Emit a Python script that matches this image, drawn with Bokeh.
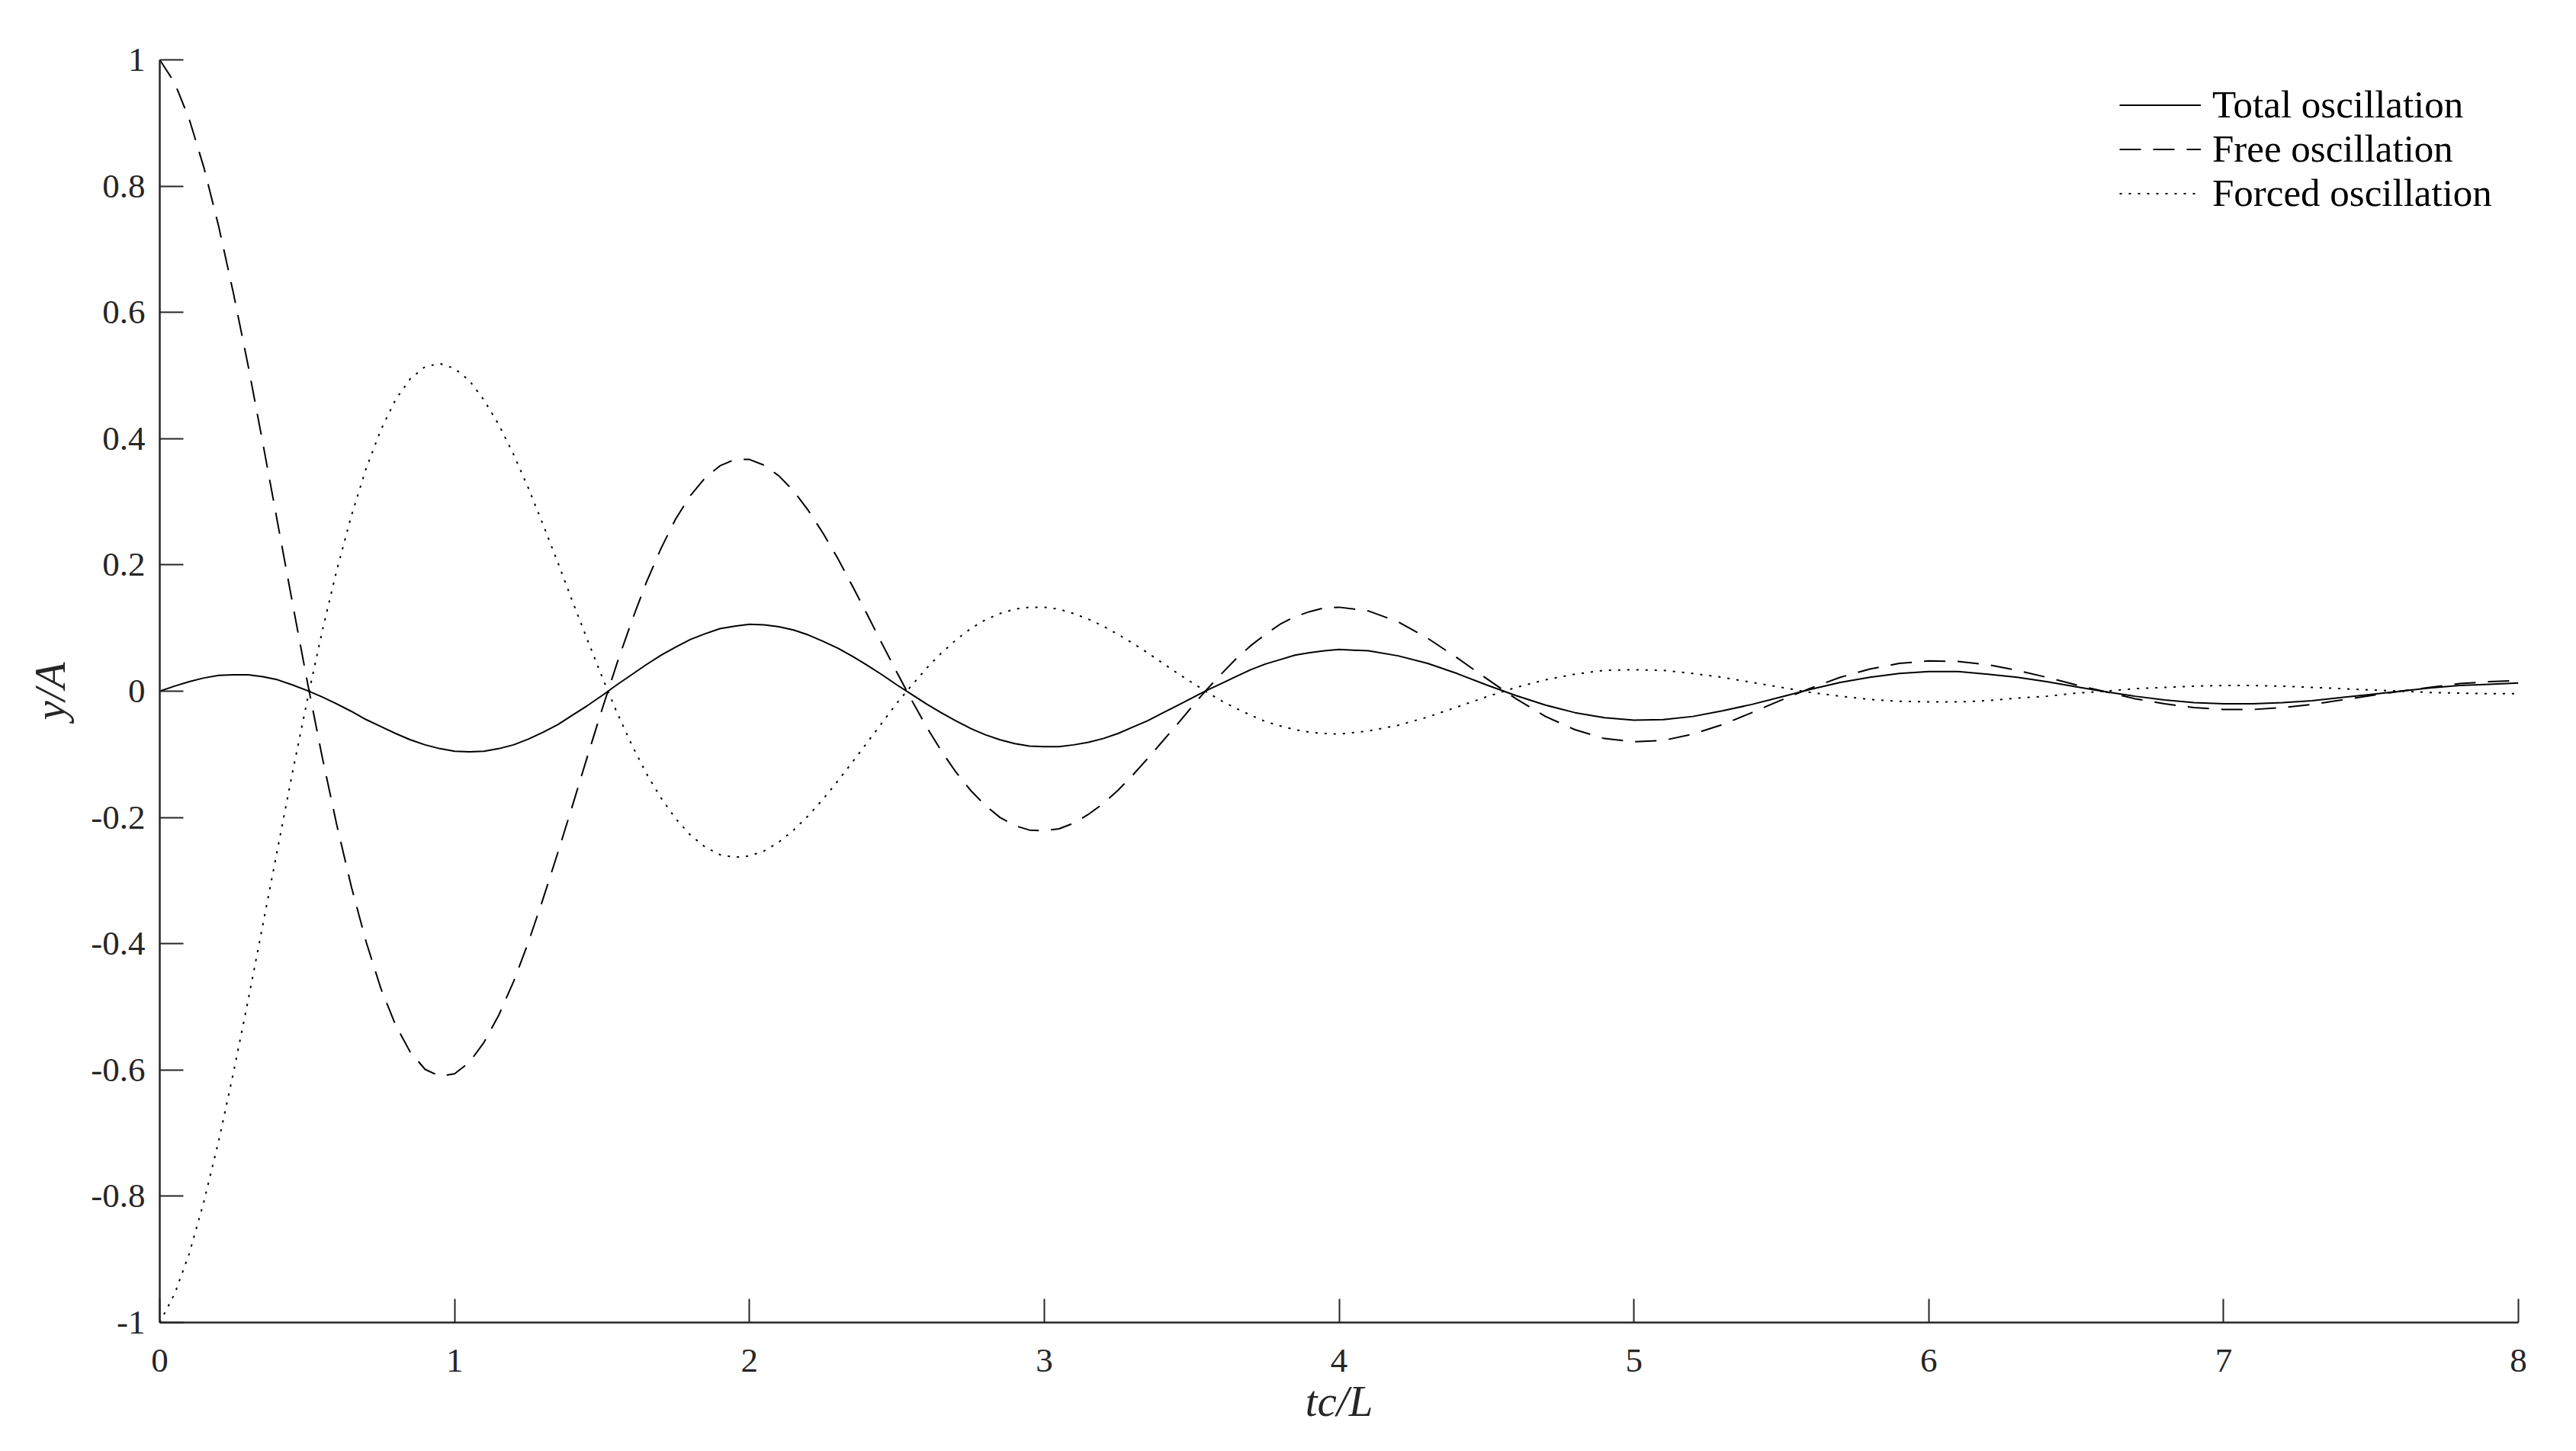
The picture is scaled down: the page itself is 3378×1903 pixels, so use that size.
from bokeh.plotting import figure
from bokeh.models import ColumnDataSource, Range1d, FixedTicker, Legend, LegendItem
from bokeh.embed import file_html
from bokeh.resources import INLINE

# ---- data ----
t_vals = [
    0.00, 0.05, 0.10, 0.15, 0.20, 0.25, 0.30, 0.35, 0.40, 0.45,
    0.50, 0.55, 0.60, 0.65, 0.70, 0.75, 0.80, 0.85, 0.90, 0.95,
    1.00, 1.05, 1.10, 1.15, 1.20, 1.25, 1.30, 1.35, 1.40, 1.45,
    1.50, 1.55, 1.60, 1.65, 1.70, 1.75, 1.80, 1.85, 1.90, 1.95,
    2.00, 2.05, 2.10, 2.15, 2.20, 2.25, 2.30, 2.35, 2.40, 2.45,
    2.50, 2.55, 2.60, 2.65, 2.70, 2.75, 2.80, 2.85, 2.90, 2.95,
    3.00, 3.05, 3.10, 3.15, 3.20, 3.25, 3.30, 3.35, 3.40, 3.45,
    3.50, 3.55, 3.60, 3.65, 3.70, 3.75, 3.80, 3.85, 3.90, 3.95,
    4.00,
    4.1, 4.2, 4.3, 4.4, 4.5, 4.6, 4.7, 4.8, 4.9, 5.0,
    5.1, 5.2, 5.3, 5.4, 5.5, 5.6, 5.7, 5.8, 5.9, 6.0,
    6.1, 6.2, 6.3, 6.4, 6.5, 6.6, 6.7, 6.8, 6.9, 7.0,
    7.1, 7.2, 7.3, 7.4, 7.5, 7.6, 7.7, 7.8, 7.9, 8.0,
]

total_osc = [
    0.000, 0.008, 0.015, 0.021, 0.025, 0.026, 0.026, 0.023, 0.018, 0.010,
    0.001, -0.009, -0.020, -0.032, -0.045, -0.056, -0.067, -0.077, -0.085, -0.091,
    -0.095, -0.096, -0.095, -0.091, -0.085, -0.076, -0.065, -0.053, -0.038, -0.023,
    -0.007, 0.010, 0.026, 0.042, 0.057, 0.070, 0.082, 0.091, 0.099, 0.103,
    0.106, 0.105, 0.102, 0.097, 0.089, 0.079, 0.068, 0.055, 0.041, 0.026,
    0.010, -0.005, -0.020, -0.034, -0.047, -0.059, -0.069, -0.077, -0.083, -0.087,
    -0.088, -0.088, -0.085, -0.081, -0.075, -0.067, -0.057, -0.047, -0.035, -0.023,
    -0.011, 0.001, 0.012, 0.023, 0.034, 0.043, 0.050, 0.057, 0.061, 0.064,
    0.066,
    0.064, 0.056, 0.044, 0.028, 0.010, -0.007, -0.022, -0.034, -0.042, -0.046,
    -0.045, -0.040, -0.031, -0.021, -0.009, 0.003, 0.014, 0.022, 0.028, 0.031,
    0.031, 0.027, 0.022, 0.015, 0.007, -0.001, -0.008, -0.014, -0.018, -0.020,
    -0.020, -0.018, -0.015, -0.010, -0.005, 0.000, 0.005, 0.009, 0.011, 0.013,
]

free_osc = [
    1.000, 0.964, 0.906, 0.829, 0.736, 0.630, 0.515, 0.392, 0.266, 0.140,
    0.016, -0.102, -0.211, -0.310, -0.397, -0.471, -0.529, -0.572, -0.599, -0.610,
    -0.606, -0.588, -0.556, -0.513, -0.460, -0.398, -0.329, -0.256, -0.181, -0.104,
    -0.029, 0.043, 0.110, 0.172, 0.226, 0.273, 0.310, 0.338, 0.357, 0.367,
    0.367, 0.358, 0.341, 0.317, 0.286, 0.250, 0.210, 0.166, 0.121, 0.075,
    0.030, -0.014, -0.056, -0.094, -0.128, -0.157, -0.181, -0.200, -0.213, -0.220,
    -0.221, -0.218, -0.209, -0.195, -0.178, -0.157, -0.133, -0.107, -0.080, -0.053,
    -0.025, 0.002, 0.027, 0.051, 0.072, 0.090, 0.106, 0.118, 0.126, 0.132,
    0.133,
    0.127, 0.110, 0.084, 0.053, 0.020, -0.012, -0.040, -0.061, -0.075, -0.080,
    -0.078, -0.068, -0.053, -0.034, -0.014, 0.005, 0.022, 0.035, 0.044, 0.048,
    0.047, 0.042, 0.033, 0.022, 0.010, -0.001, -0.012, -0.020, -0.026, -0.029,
    -0.029, -0.026, -0.021, -0.014, -0.007, 0.000, 0.006, 0.012, 0.015, 0.017,
]

forced_osc = [
    -1.000, -0.955, -0.891, -0.808, -0.712, -0.604, -0.489, -0.369, -0.249, -0.129,
    -0.015, 0.093, 0.191, 0.278, 0.353, 0.414, 0.462, 0.495, 0.514, 0.519,
    0.511, 0.492, 0.461, 0.422, 0.375, 0.322, 0.264, 0.204, 0.142, 0.082,
    0.023, -0.033, -0.084, -0.130, -0.169, -0.202, -0.228, -0.247, -0.259, -0.263,
    -0.261, -0.253, -0.239, -0.220, -0.197, -0.171, -0.142, -0.112, -0.081, -0.050,
    -0.019, 0.009, 0.036, 0.060, 0.081, 0.099, 0.113, 0.123, 0.130, 0.133,
    0.133, 0.130, 0.123, 0.114, 0.103, 0.090, 0.076, 0.061, 0.045, 0.029,
    0.014, -0.001, -0.015, -0.027, -0.038, -0.048, -0.055, -0.061, -0.065, -0.067,
    -0.068,
    -0.063, -0.054, -0.041, -0.025, -0.009, 0.006, 0.018, 0.027, 0.033, 0.034,
    0.033, 0.028, 0.022, 0.014, 0.006, -0.002, -0.008, -0.013, -0.016, -0.017,
    -0.017, -0.015, -0.011, -0.008, -0.003, 0.000, 0.004, 0.006, 0.008, 0.009,
    0.009, 0.008, 0.006, 0.004, 0.002, 0.000, -0.002, -0.003, -0.004, -0.004,
]

series_names = ["Total oscillation", "Free oscillation", "Forced oscillation"]

x_ticks = [0, 1, 2, 3, 4, 5, 6, 7, 8]
x_tick_labels = ["0", "1", "2", "3", "4", "5", "6", "7", "8"]
y_ticks = [-1, -0.8, -0.6, -0.4, -0.2, 0, 0.2, 0.4, 0.6, 0.8, 1]
y_tick_labels = ["-1", "-0.8", "-0.6", "-0.4", "-0.2", "0", "0.2", "0.4", "0.6", "0.8", "1"]

x_label = "tc/L"
y_label = "y/A"

# ---- styling ----
AX_COLOR = "#262626"
FONT = "Liberation Serif"

source = ColumnDataSource(data=dict(t=t_vals, total=total_osc, free=free_osc, forced=forced_osc))

p = figure(
    width=3362, height=1887,
    x_range=Range1d(0, 8), y_range=Range1d(-1, 1),
    output_backend="svg", toolbar_location=None,
    min_border_left=209, min_border_right=60, min_border_top=78, min_border_bottom=153,
    background_fill_color="white", border_fill_color="white",
)
p.outline_line_color = None
p.grid.visible = False

r_total = p.line("t", "total", source=source, line_color="black", line_width=2)
r_free = p.line("t", "free", source=source, line_color="black", line_width=2, line_dash="28 16")
r_forced = p.line("t", "forced", source=source, line_color="black", line_width=2, line_dash="3 9")

for ax in (p.xaxis[0], p.yaxis[0]):
    ax.axis_line_color = AX_COLOR
    ax.axis_line_width = 2.5
    ax.major_tick_line_color = AX_COLOR
    ax.major_tick_line_width = 2
    ax.major_tick_in = 31
    ax.major_tick_out = 0
    ax.minor_tick_line_color = None
    ax.major_label_text_font = FONT
    ax.major_label_text_font_size = "45px"
    ax.major_label_text_color = AX_COLOR
    ax.axis_label_text_font = FONT
    ax.axis_label_text_font_style = "italic"
    ax.axis_label_text_font_size = "57px"
    ax.axis_label_text_color = AX_COLOR

p.xaxis[0].ticker = FixedTicker(ticks=x_ticks)
p.xaxis[0].major_label_overrides = {v: s for v, s in zip(x_ticks, x_tick_labels)}
p.xaxis[0].major_label_standoff = 35
p.xaxis[0].axis_label = x_label
p.xaxis[0].axis_label_standoff = 4

p.yaxis[0].ticker = FixedTicker(ticks=y_ticks)
p.yaxis[0].major_label_overrides = {v: s for v, s in zip(y_ticks, y_tick_labels)}
p.yaxis[0].major_label_standoff = 19
p.yaxis[0].axis_label = y_label
p.yaxis[0].axis_label_standoff = 19

legend = Legend(
    items=[
        LegendItem(label=series_names[0], renderers=[r_total]),
        LegendItem(label=series_names[1], renderers=[r_free]),
        LegendItem(label=series_names[2], renderers=[r_forced]),
    ],
    location=(2570, 1452),
    orientation="vertical",
    padding=0, spacing=0, margin=0,
    glyph_width=107, glyph_height=57, label_height=57,
    label_standoff=15,
    label_text_font=FONT, label_text_font_size="51px", label_text_color="black",
    border_line_color=None, background_fill_alpha=0,
)
p.add_layout(legend, "center")

open("out.html", "w").write(file_html(p, INLINE))
